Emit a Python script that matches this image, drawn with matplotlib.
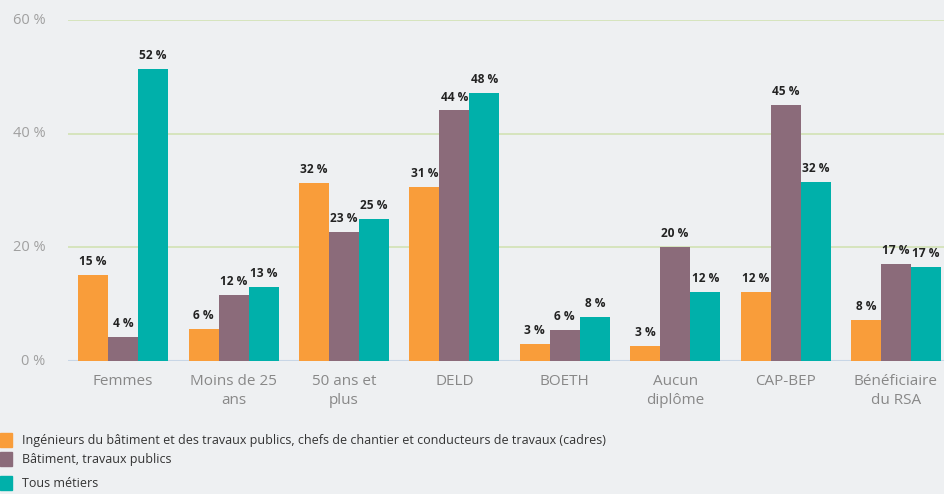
import matplotlib.pyplot as plt
import matplotlib.patches as mpatches
import numpy as np

plt.rcParams['font.family'] = ['Open Sans', 'DejaVu Sans']

categories = ["Femmes", "Moins de 25\nans", "50 ans et\nplus", "DELD", "BOETH",
              "Aucun\ndiplôme", "CAP-BEP", "Bénéficiaire\ndu RSA"]
series_names = ["Ingénieurs du bâtiment et des travaux publics, chefs de chantier et conducteurs de travaux (cadres)",
                "Bâtiment, travaux publics",
                "Tous métiers"]
cadres = [15.1, 5.7, 31.4, 30.7, 3.0, 2.7, 12.1, 7.3]
btp = [4.3, 11.6, 22.7, 44.1, 5.5, 20.1, 45.1, 17.1]
tous = [51.4, 13.1, 25.0, 47.2, 7.8, 12.1, 31.5, 16.5]
cadres_lbl = ["15 %", "6 %", "32 %", "31 %", "3 %", "3 %", "12 %", "8 %"]
btp_lbl = ["4 %", "12 %", "23 %", "44 %", "6 %", "20 %", "45 %", "17 %"]
tous_lbl = ["52 %", "13 %", "25 %", "48 %", "8 %", "12 %", "32 %", "17 %"]
yticks = [0, 20, 40, 60]
colors = ["#f99d3a", "#8b6b7a", "#00b0aa"]
bg = "#eef0f2"

fig = plt.figure(figsize=(9.44, 4.94), dpi=100, facecolor=bg)
ax = fig.add_axes([0.072, 0.2692, 0.928, 0.6903], facecolor=bg)

x = np.arange(len(categories))
w = 0.272
data = [cadres, btp, tous]
labels = [cadres_lbl, btp_lbl, tous_lbl]
for i, (vals, lbls) in enumerate(zip(data, labels)):
    pos = x + (i - 1) * w
    ax.bar(pos, vals, width=w, color=colors[i], zorder=3)
    for p, v, t in zip(pos, vals, lbls):
        ax.text(p, v + 1.2, t, ha='center', va='bottom', fontsize=8.6,
                fontweight='bold', color='#222222', zorder=4)

ax.set_xlim(-0.5, 7.435)
ax.set_ylim(0, 60)
ax.set_yticks(yticks)
ax.set_yticklabels([f"{t} %" for t in yticks])
ax.grid(axis='y', color='#d2e2b4', linewidth=1.2, zorder=0)
ax.axhline(0, color='#c8d6e6', linewidth=1.5, zorder=2)
ax.set_xticks(x)
ax.set_xticklabels(categories, fontsize=11, color='#888888', linespacing=1.4)
ax.tick_params(axis='y', length=0, labelsize=10.5, labelcolor='#a0a0a0', pad=16)
ax.tick_params(axis='x', length=0, pad=9)
for s in ax.spines.values():
    s.set_visible(False)
for lab in ax.get_yticklabels():
    lab.set_verticalalignment('center')

# legend
for i, name in enumerate(series_names):
    yc = 494 - [440, 459, 483][i]
    fig.patches.append(mpatches.Rectangle((0, (yc - 7) / 494), 12 / 944, 14 / 494,
                                          color=colors[i], transform=fig.transFigure))
    fig.text(22 / 944, yc / 494, name, fontsize=9, color='#333333', va='center')

fig.savefig("out.png", dpi=100, facecolor=bg)
